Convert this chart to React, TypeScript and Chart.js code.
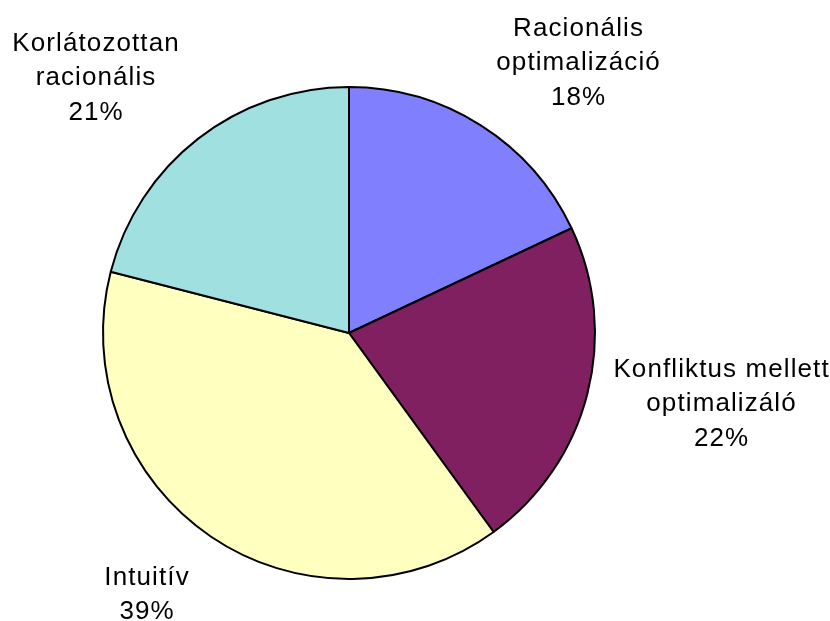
import React, { useEffect, useRef } from "react";
import { Chart, registerables } from "chart.js";

Chart.register(...registerables);

const categories: string[][] = [
  ["Racionális", "optimalizáció"],
  ["Konfliktus mellett", "optimalizáló"],
  ["Intuitív"],
  ["Korlátozottan", "racionális"],
];
const values: number[] = [18, 22, 39, 21];
const sliceColors: string[] = ["#8080FF", "#802060", "#FFFFC0", "#A0E0E0"];

// label block positions: [x of block centre, baseline of first line], relative to pie centre, in pixels for r = 246
const labelOffsets: [number, number][] = [
  [229, -297],
  [372, 44],
  [-202.5, 252],
  [-253.5, -282],
];

const labelPlugin = {
  id: "outsideLabels",
  afterDatasetsDraw(chart: any) {
    const ctx = chart.ctx;
    const meta = chart.getDatasetMeta(0);
    const total = values.reduce((a, b) => a + b, 0);
    ctx.save();
    ctx.font = '26px "Liberation Sans", Arial, sans-serif';
    (ctx as any).letterSpacing = "1.1px";
    ctx.fillStyle = "#000";
    ctx.textAlign = "center";
    ctx.textBaseline = "alphabetic";
    meta.data.forEach((arc: any, i: number) => {
      const r = arc.outerRadius;
      const s = r / 246;
      const cx = arc.x + labelOffsets[i][0] * s;
      const cy = arc.y + labelOffsets[i][1] * s;
      const pct = Math.round((values[i] / total) * 100) + "%";
      const lines = [...categories[i], pct];
      lines.forEach((ln, j) => {
        ctx.fillText(ln, cx + 0.55, cy + j * 34.3);
      });
    });
    ctx.restore();
  },
};

export default function App() {
  const ref = useRef<HTMLCanvasElement>(null);
  useEffect(() => {
    if (!ref.current) return;
    const chart = new Chart(ref.current, {
      type: "pie",
      data: {
        labels: categories.map((c) => c.join(" ")),
        datasets: [
          {
            data: values,
            backgroundColor: sliceColors,
            borderColor: "#000000",
            borderWidth: 2,
          },
        ],
      },
      options: {
        responsive: false,
        animation: false,
        layout: { padding: { left: 102, right: 234, top: 86, bottom: 41 } },
        plugins: {
          legend: { display: false },
          tooltip: { enabled: false },
        },
      },
      plugins: [labelPlugin],
    });
    return () => chart.destroy();
  }, []);
  return (
    <div style={{ position: "absolute", left: 0, top: 0, width: 830, height: 621, background: "#fff" }}>
      <canvas ref={ref} width={830} height={621} style={{ display: "block" }} />
    </div>
  );
}
